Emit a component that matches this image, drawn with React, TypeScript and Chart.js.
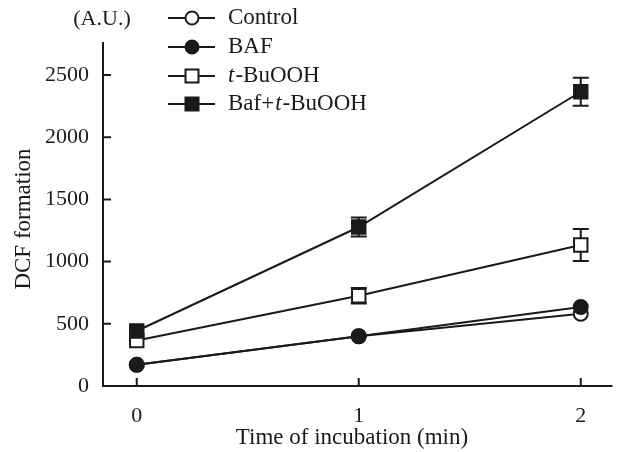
import React, { useEffect, useRef } from "react";
import { Chart, registerables } from "chart.js";

Chart.register(...registerables);

const timePoints = [0, 1, 2];
const seriesNames = ["Control", "BAF", "t-BuOOH", "Baf+t-BuOOH"];
const controlValues = [170, 400, 580];
const bafValues = [170, 400, 635];
const tbuoohValues = [365, 725, 1133];
const tbuoohErrors = [0, 62, 128];
const bafTbuoohValues = [442, 1278, 2365];
const bafTbuoohErrors = [0, 76, 113];
const yTicks = [0, 500, 1000, 1500, 2000, 2500];
const xTicks = [0, 1, 2];

const FONT = '"Liberation Serif", "DejaVu Serif", serif';
const INK = "#1a1a1a";

export default function App() {
  const ref = useRef<HTMLCanvasElement | null>(null);

  useEffect(() => {
    const canvas = ref.current;
    if (!canvas) return;

    const mk = (vals: number[]) => vals.map((v, i) => ({ x: timePoints[i], y: v }));

    const errorSets: { [k: number]: number[] } = { 2: tbuoohErrors, 3: bafTbuoohErrors };

    const plugin = {
      id: "custom",
      beforeDatasetsDraw(chart: any) {
        const { ctx, scales } = chart;
        const xs = scales.x;
        const ys = scales.y;
        ctx.save();
        ctx.strokeStyle = INK;
        ctx.lineWidth = 2;
        Object.keys(errorSets).forEach((k) => {
          const di = Number(k);
          const vals = chart.data.datasets[di].data;
          const errs = errorSets[di];
          vals.forEach((p: any, i: number) => {
            const e = errs[i];
            if (!e) return;
            const px = xs.getPixelForValue(p.x);
            const y1 = ys.getPixelForValue(p.y + e);
            const y2 = ys.getPixelForValue(p.y - e);
            ctx.beginPath();
            ctx.moveTo(px, y1);
            ctx.lineTo(px, y2);
            ctx.moveTo(px - 8, y1);
            ctx.lineTo(px + 8, y1);
            ctx.moveTo(px - 8, y2);
            ctx.lineTo(px + 8, y2);
            ctx.stroke();
          });
        });
        ctx.restore();
      },
      afterDraw(chart: any) {
        const { ctx, scales, chartArea } = chart;
        const xs = scales.x;
        const ys = scales.y;
        ctx.save();
        ctx.strokeStyle = INK;
        ctx.lineWidth = 2;
        // axes
        ctx.beginPath();
        ctx.moveTo(chartArea.left, chartArea.top);
        ctx.lineTo(chartArea.left, chartArea.bottom);
        ctx.lineTo(chartArea.right, chartArea.bottom);
        ctx.stroke();
        // inward ticks
        ctx.beginPath();
        yTicks.forEach((v) => {
          const py = ys.getPixelForValue(v);
          ctx.moveTo(chartArea.left, py);
          ctx.lineTo(chartArea.left + 8, py);
        });
        xTicks.forEach((v) => {
          const px = xs.getPixelForValue(v);
          ctx.moveTo(px, chartArea.bottom);
          ctx.lineTo(px, chartArea.bottom - 8);
        });
        ctx.stroke();

        ctx.fillStyle = INK;
        // titles
        ctx.font = `23px ${FONT}`;
        ctx.textAlign = "center";
        ctx.textBaseline = "middle";
        ctx.fillText("Time of incubation (min)", 352, 438);
        ctx.font = `22px ${FONT}`;
        ctx.fillText("(A.U.)", 102, 19);
        ctx.font = `23px ${FONT}`;
        ctx.save();
        ctx.translate(24, 219);
        ctx.rotate(-Math.PI / 2);
        ctx.fillText("DCF formation", 0, 0);
        ctx.restore();

        // legend
        const rowY = [18, 47, 76, 104];
        ctx.textAlign = "left";
        seriesNames.forEach((name, i) => {
          const y = rowY[i];
          ctx.lineWidth = 2;
          ctx.strokeStyle = INK;
          ctx.beginPath();
          ctx.moveTo(168, y);
          ctx.lineTo(215, y);
          ctx.stroke();
          const cx = 192;
          ctx.beginPath();
          if (i < 2) {
            ctx.arc(cx, y, 6.5, 0, Math.PI * 2);
          } else {
            ctx.rect(cx - 6.5, y - 6.5, 13, 13);
          }
          ctx.fillStyle = i % 2 === 0 ? "#ffffff" : INK;
          ctx.fill();
          ctx.stroke();
          ctx.fillStyle = INK;
          ctx.font = `23px ${FONT}`;
          if (i >= 2) {
            let x = 228;
            if (i === 3) {
              ctx.fillText("Baf+", x, y);
              x += ctx.measureText("Baf+").width + 1;
            }
            ctx.font = `italic 23px ${FONT}`;
            ctx.fillText("t", x, y);
            x += ctx.measureText("t").width + 1;
            ctx.font = `23px ${FONT}`;
            ctx.fillText("-BuOOH", x, y);
          } else {
            ctx.fillText(name, 228, y);
          }
        });
        ctx.restore();
      },
    };

    const styles = [
      { bg: "#ffffff", ps: "circle", r: 7 },
      { bg: INK, ps: "circle", r: 7 },
      { bg: "#ffffff", ps: "rect", r: 9.5 },
      { bg: INK, ps: "rect", r: 9.5 },
    ];
    const allVals = [controlValues, bafValues, tbuoohValues, bafTbuoohValues];

    const chart = new Chart(canvas, {
      type: "line",
      data: {
        datasets: allVals.map((vals, i) => ({
          label: seriesNames[i],
          data: mk(vals),
          borderColor: INK,
          borderWidth: 2,
          backgroundColor: styles[i].bg,
          pointBackgroundColor: styles[i].bg,
          pointBorderColor: INK,
          pointBorderWidth: 2,
          pointStyle: styles[i].ps,
          pointRadius: styles[i].r,
          tension: 0,
          order: 3 - i,
        })),
      },
      options: {
        animation: false,
        responsive: false,
        layout: { padding: { left: 0, top: 42, right: 7, bottom: 0 } },
        plugins: { legend: { display: false }, tooltip: { enabled: false } },
        scales: {
          x: {
            type: "linear",
            min: -0.152,
            max: 2.143,
            afterBuildTicks: (s: any) => {
              s.ticks = xTicks.map((v) => ({ value: v }));
            },
            afterFit: (s: any) => {
              s.height = 66;
            },
            grid: { display: false },
            border: { display: false },
            ticks: {
              color: INK,
              font: { family: FONT, size: 22 },
              padding: 9,
              maxRotation: 0,
              callback: (v: any) => String(v),
            },
          },
          y: {
            type: "linear",
            min: 0,
            max: 2765,
            afterBuildTicks: (s: any) => {
              s.ticks = yTicks.map((v) => ({ value: v }));
            },
            afterFit: (s: any) => {
              s.width = 103;
            },
            grid: { display: false },
            border: { display: false },
            ticks: {
              color: INK,
              font: { family: FONT, size: 22 },
              padding: 6,
              callback: (v: any) => String(v),
            },
          },
        },
      },
      plugins: [plugin],
    });

    return () => chart.destroy();
  }, []);

  return (
    <div style={{ position: "fixed", left: 0, top: 0, width: 624, height: 452, background: "#fff" }}>
      <canvas ref={ref} width={624} height={452} style={{ width: 624, height: 452 }} />
    </div>
  );
}
